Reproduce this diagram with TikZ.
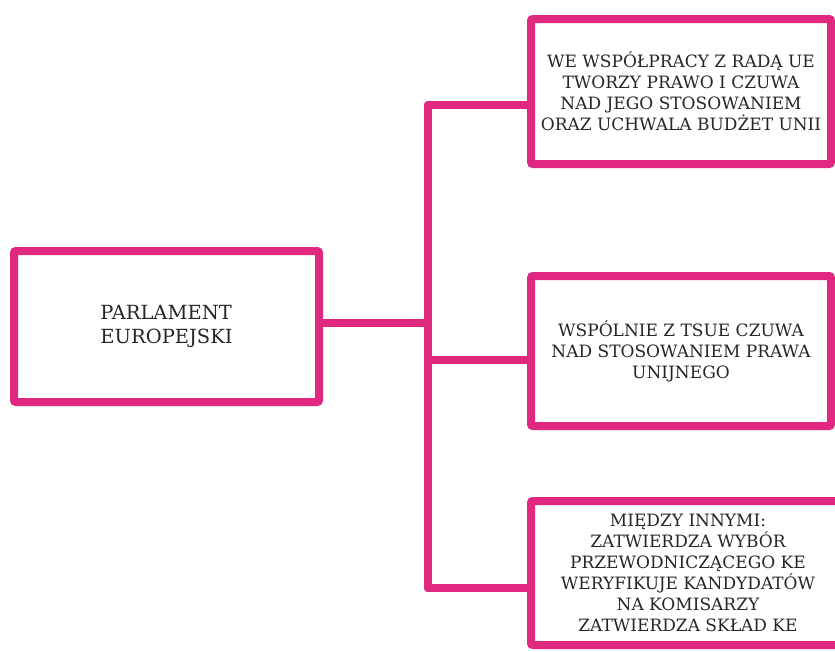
\documentclass[tikz,border=0pt]{standalone}
\usepackage{fontspec}
\setmainfont{DejaVu Serif}
\definecolor{pinkline}{RGB}{224,40,128}
\tikzset{
	box/.style = {
		rectangle,
		draw=pinkline,
		line width=8pt,
		rounded corners=2pt,
		fill=white,
		align=center,
		inner sep=0pt,
		text=black!85,
		font=\fontsize{17}{21}\selectfont
	},
	box_main/.style = {
		box,
		align=left,
		minimum width=305pt,
		minimum height=151pt,
		font=\fontsize{19.5}{24}\selectfont
	},
	box_task/.style = {
		box,
		minimum width=300pt
	},
	link/.style = {
		draw=pinkline,
		line width=8pt,
		line cap=round,
		line join=round
	}
}

\begin{document}
\begin{tikzpicture}[x=1pt,y=-1pt]
\useasboundingbox (0,0) rectangle (835,651);
% boxes
\node [box_main] (parl) at (166.5,326.5) {PARLAMENT\\EUROPEJSKI};
\node [box_task, minimum height=145pt] (law) at (681,91.5)
	{WE WSPÓŁPRACY Z RADĄ UE\\TWORZY PRAWO I CZUWA\\NAD JEGO STOSOWANIEM\\ORAZ UCHWALA BUDŻET UNII};
\node [box_task, minimum height=150pt] (court) at (681,351)
	{WSPÓLNIE Z TSUE CZUWA\\NAD STOSOWANIEM PRAWA\\UNIJNEGO};
\node [box_task, minimum width=314pt, minimum height=144pt] (comm) at (688,573)
	{MIĘDZY INNYMI:\\ZATWIERDZA WYBÓR\\PRZEWODNICZĄCEGO KE\\WERYFIKUJE KANDYDATÓW\\NA KOMISARZY\\ZATWIERDZA SKŁAD KE};
% branch points on the trunk
\coordinate (t_main) at (428,323);
\coordinate (t_top) at (428,105);
\coordinate (t_mid) at (428,360);
\coordinate (t_bot) at (428,588);
% trunk and branches
\draw [link] (t_top) -- (t_bot);
\draw [link] (t_main -| parl.east) -- (t_main);
\draw [link] (t_top) -- (t_top -| law.west);
\draw [link] (t_mid) -- (t_mid -| court.west);
\draw [link] (t_bot) -- (t_bot -| comm.west);
\end{tikzpicture}
\end{document}
